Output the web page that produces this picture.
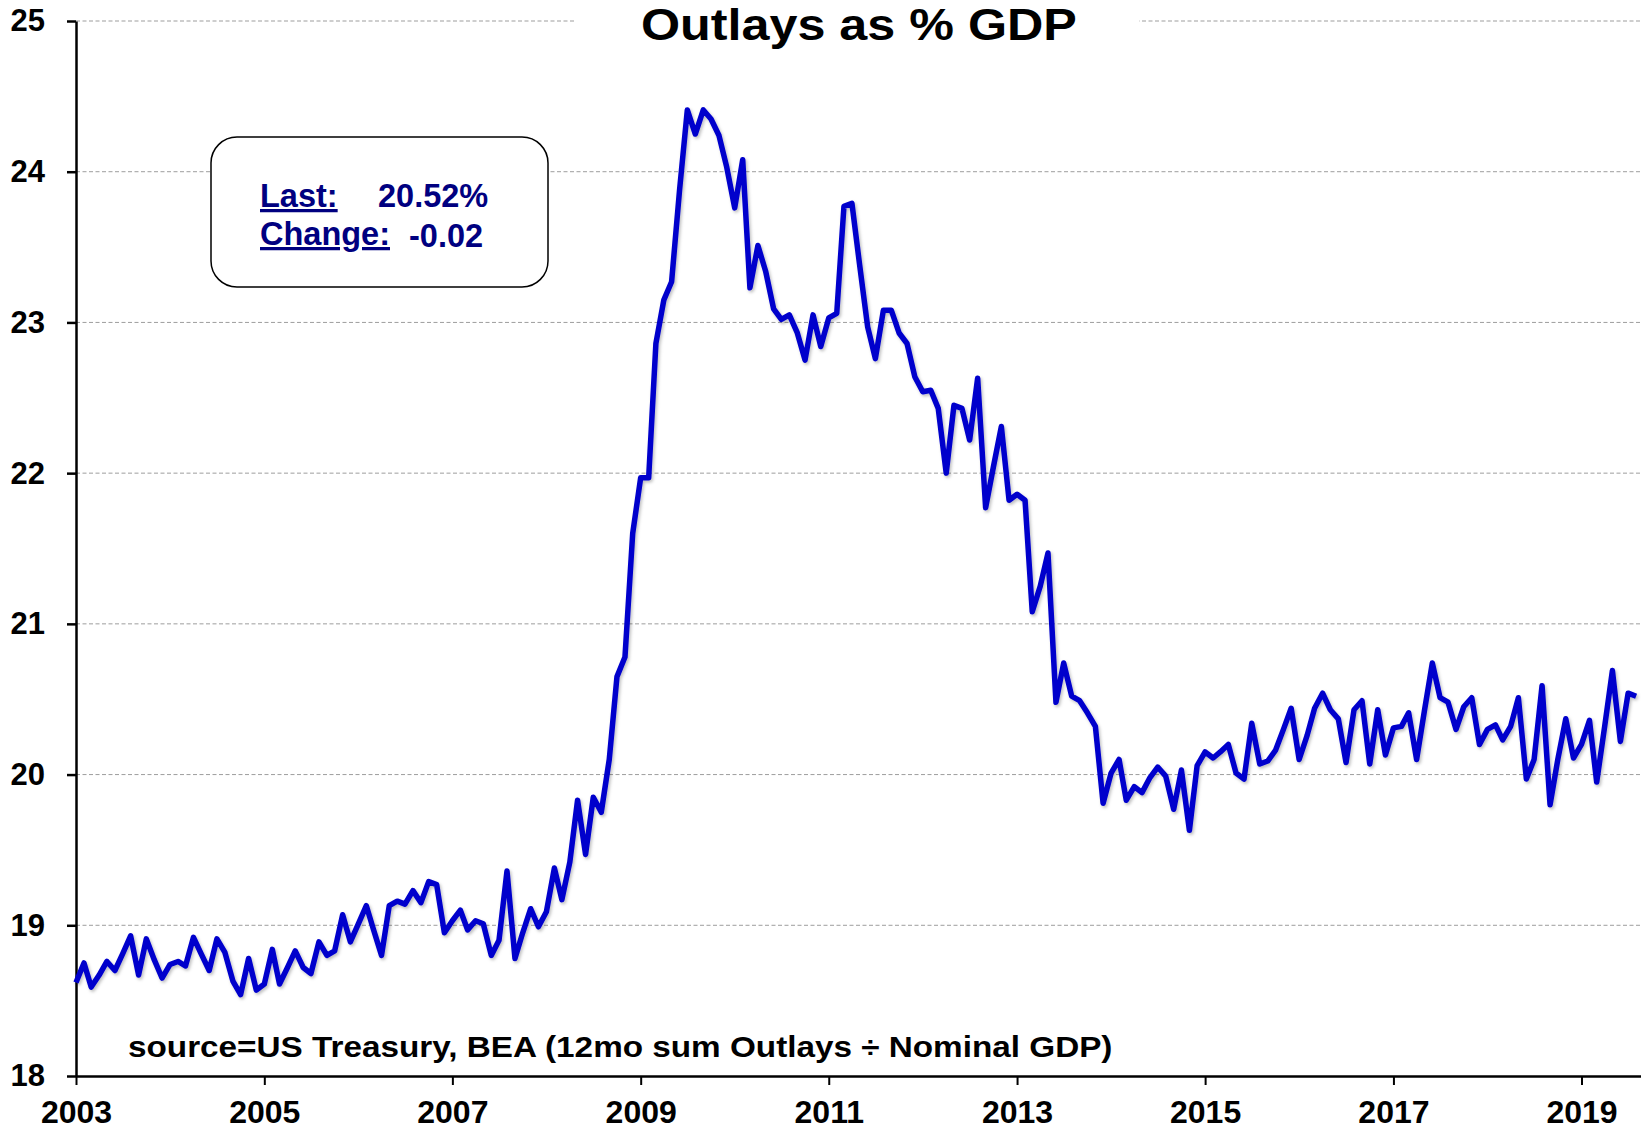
<!DOCTYPE html>
<html>
<head>
<meta charset="utf-8">
<script src="https://cdn.jsdelivr.net/npm/d3@7"></script>
<style>
  html, body { margin: 0; padding: 0; background: #fff; }
  #svg-container { width: 1641px; height: 1129px; }
  svg { display: block; font-family: "Liberation Sans", Arial, sans-serif; font-weight: bold; }
</style>
</head>
<body>
<div id="svg-container"></div>
<script>
////////////////////////////////////////////////////////////////////
////////////////////////////  Data  ////////////////////////////////
// monthly, Jan 2003 -> Aug 2019
const startMonth = new Date(2003, 0, 1);
const outlaysPct = [
  18.62, 18.75, 18.59, 18.67, 18.76, 18.70, 18.81, 18.93, 18.67, 18.91, 18.77, 18.65, // 2003
  18.74, 18.76, 18.73, 18.92, 18.81, 18.70, 18.91, 18.82, 18.63, 18.54, 18.78, 18.57, // 2004
  18.61, 18.84, 18.61, 18.72, 18.83, 18.72, 18.68, 18.89, 18.80, 18.83, 19.07, 18.89, // 2005
  19.01, 19.13, 18.97, 18.80, 19.13, 19.16, 19.14, 19.23, 19.15, 19.29, 19.27, 18.95, // 2006
  19.03, 19.10, 18.97, 19.03, 19.01, 18.80, 18.90, 19.36, 18.78, 18.95, 19.11, 18.99, // 2007
  19.09, 19.38, 19.17, 19.42, 19.83, 19.47, 19.85, 19.75, 20.10, 20.65, 20.78, 21.60, // 2008
  21.97, 21.97, 22.86, 23.15, 23.27, 23.88, 24.41, 24.25, 24.41, 24.35, 24.24, 24.03, // 2009
  23.76, 24.08, 23.23, 23.51, 23.34, 23.09, 23.02, 23.05, 22.93, 22.75, 23.05, 22.84, // 2010
  23.03, 23.06, 23.77, 23.79, 23.38, 22.97, 22.76, 23.08, 23.08, 22.93, 22.86, 22.64, // 2011
  22.54, 22.55, 22.43, 22.00, 22.45, 22.43, 22.22, 22.63, 21.77, 22.04, 22.31, 21.82, // 2012
  21.86, 21.82, 21.08, 21.25, 21.47, 20.48, 20.74, 20.52, 20.49, 20.41, 20.32, 19.81, // 2013
  20.01, 20.10, 19.83, 19.92, 19.88, 19.98, 20.05, 19.99, 19.77, 20.03, 19.63, 20.06, // 2014
  20.15, 20.11, 20.15, 20.20, 20.01, 19.97, 20.34, 20.07, 20.09, 20.16, 20.30, 20.44, // 2015
  20.10, 20.26, 20.44, 20.54, 20.43, 20.37, 20.08, 20.43, 20.49, 20.07, 20.43, 20.13, // 2016
  20.31, 20.32, 20.41, 20.10, 20.42, 20.74, 20.51, 20.48, 20.30, 20.45, 20.51, 20.20, // 2017
  20.30, 20.33, 20.23, 20.32, 20.51, 19.97, 20.10, 20.59, 19.80, 20.10, 20.37, 20.11, // 2018
  20.20, 20.36, 19.95, 20.32, 20.69, 20.22, 20.54, 20.52                               // 2019
];

const yTicks = [18, 19, 20, 21, 22, 23, 24, 25];
const xTickYears = [2003, 2005, 2007, 2009, 2011, 2013, 2015, 2017, 2019];

const titleText = "Outlays as % GDP";
const sourceText = "source=US Treasury, BEA (12mo sum Outlays \u00f7 Nominal GDP)";
const boxLabels = ["Last:", "Change:"];
const boxValues = ["20.52%", "-0.02"];

////////////////////////////////////////////////////////////////////
////////////////////////////  Init  ////////////////////////////////
const width = 1641;
const height = 1129;
const margin = { top: 21, right: 0, bottom: 53, left: 76 };

const linecolor = "#0000cc";
const boxcolor = "#000080";

const svg = d3
  .select("#svg-container")
  .append("svg")
  .attr("width", width)
  .attr("height", height);

const months = outlaysPct.map((d, i) => d3.timeMonth.offset(startMonth, i));

// scale
const x = d3
  .scaleTime()
  .domain([startMonth, new Date(2019, 7, 20)])
  .range([margin.left, width - margin.right]);

const y = d3
  .scaleLinear()
  .domain([18, 25])
  .range([height - margin.bottom, margin.top]);

// shadow under the line
const defs = svg.append("defs");
defs
  .append("filter")
  .attr("id", "shadow")
  .attr("x", "-5%")
  .attr("y", "-5%")
  .attr("width", "110%")
  .attr("height", "110%")
  .append("feDropShadow")
  .attr("dx", 1.5)
  .attr("dy", 2)
  .attr("stdDeviation", 1.5)
  .attr("flood-color", "#000")
  .attr("flood-opacity", 0.25);

// wide text (stretched horizontally to a given width)
const stretchText = (parent, str, x0, y0, size, targetWidth) => {
  const t = parent
    .append("text")
    .attr("font-size", size)
    .attr("fill", "#000")
    .text(str);
  const natural = t.node().getComputedTextLength();
  t.attr("transform", `translate(${x0},${y0}) scale(${targetWidth / natural},1)`);
  return t;
};

////////////////////////////////////////////////////////////////////
////////////////////////////  Grid  ////////////////////////////////
svg
  .append("g")
  .selectAll("line")
  .data(yTicks.filter((d) => d > 18))
  .join("line")
  .attr("x1", margin.left)
  .attr("x2", width)
  .attr("y1", (d) => y(d))
  .attr("y2", (d) => y(d))
  .attr("stroke", "#9d9d9d")
  .attr("stroke-width", 1)
  .attr("stroke-dasharray", "4,2.5");

// title sits on top gridline with white background
svg
  .append("rect")
  .attr("x", 574)
  .attr("y", 0)
  .attr("width", 565)
  .attr("height", 45)
  .attr("fill", "#fff");

stretchText(svg, titleText, 641, 40, 44, 436);

////////////////////////////////////////////////////////////////////
////////////////////////////  Axes  ////////////////////////////////
const yAxis = svg
  .append("g")
  .attr("transform", `translate(${margin.left},0)`)
  .call(
    d3
      .axisLeft(y)
      .tickValues(yTicks)
      .tickFormat(d3.format("d"))
      .tickSize(9)
      .tickSizeOuter(0)
      .tickPadding(22)
  );

const xAxis = svg
  .append("g")
  .attr("transform", `translate(0,${height - margin.bottom})`)
  .call(
    d3
      .axisBottom(x)
      .tickValues(xTickYears.map((d) => new Date(d, 0, 1)))
      .tickFormat(d3.timeFormat("%Y"))
      .tickSize(9)
      .tickSizeOuter(0)
      .tickPadding(15)
  );

yAxis.attr("font-family", null).attr("font-size", 31);
xAxis.attr("font-family", null).attr("font-size", 32);
yAxis.select(".domain").attr("stroke", "#000").attr("stroke-width", 2.5);
xAxis.select(".domain").attr("stroke", "#000").attr("stroke-width", 2.5);
yAxis.selectAll(".tick line").attr("stroke", "#000").attr("stroke-width", 2.5);
xAxis.selectAll(".tick line").attr("stroke", "#000").attr("stroke-width", 2);
yAxis.selectAll(".tick text").attr("fill", "#000");
xAxis.selectAll(".tick text").attr("fill", "#000");

////////////////////////////////////////////////////////////////////
////////////////////////////  Line  ////////////////////////////////
const line = d3
  .line()
  .x((d, i) => x(months[i]))
  .y((d) => y(d));

svg
  .append("path")
  .datum(outlaysPct)
  .attr("d", line)
  .attr("fill", "none")
  .attr("stroke", linecolor)
  .attr("stroke-width", 5.5)
  .attr("stroke-linejoin", "round")
  .attr("filter", "url(#shadow)");

////////////////////////////////////////////////////////////////////
////////////////////////////  Notes  ///////////////////////////////
stretchText(svg, sourceText, 128, 1057, 30, 985);

// last value box
const box = svg.append("g");
box
  .append("rect")
  .attr("x", 211)
  .attr("y", 137)
  .attr("width", 337)
  .attr("height", 150)
  .attr("rx", 26)
  .attr("fill", "#fff")
  .attr("stroke", "#000")
  .attr("stroke-width", 1.5);

const boxRows = [207, 245];
const valueX = [378, 409];
boxLabels.forEach((d, i) => {
  box
    .append("text")
    .attr("x", 260)
    .attr("y", boxRows[i])
    .attr("font-size", 32.5)
    .attr("fill", boxcolor)
    .attr("text-decoration", "underline")
    .text(d);
  box
    .append("text")
    .attr("x", valueX[i])
    .attr("y", boxRows[i] + (i === 1 ? 2 : 0))
    .attr("font-size", 32.5)
    .attr("fill", boxcolor)
    .text(boxValues[i]);
});
</script>
</body>
</html>
